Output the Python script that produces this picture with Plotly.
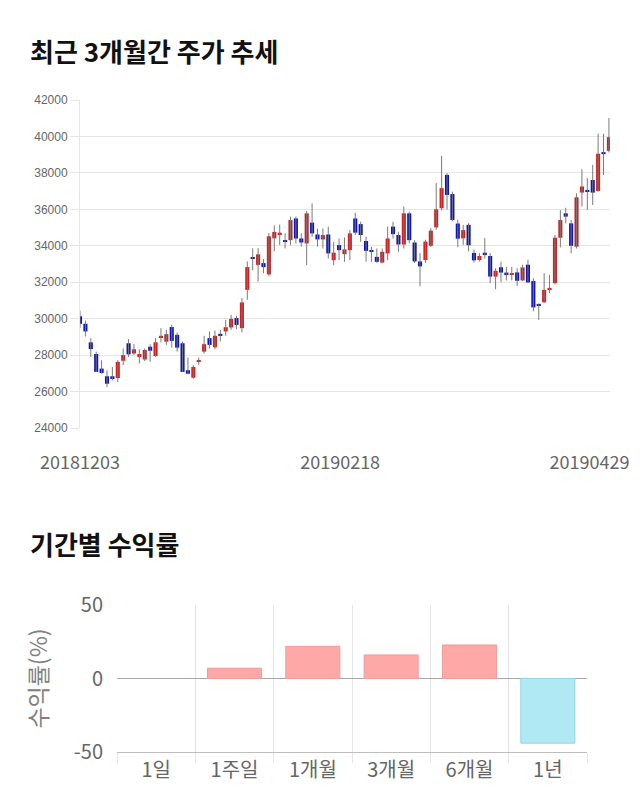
import plotly.graph_objects as go

# ---------------- data ----------------
dates = [
    "20181203", "20181204", "20181205", "20181206", "20181207", "20181210", "20181211", "20181212",
    "20181213", "20181214", "20181217", "20181218", "20181219", "20181220", "20181221", "20181224",
    "20181226", "20181227", "20181228",
    "20190102", "20190103", "20190104", "20190107", "20190108", "20190109", "20190110", "20190111",
    "20190114", "20190115", "20190116", "20190117", "20190118", "20190121", "20190122", "20190123",
    "20190124", "20190125", "20190128", "20190129", "20190130", "20190131",
    "20190201", "20190207", "20190208", "20190211", "20190212", "20190213", "20190214", "20190215",
    "20190218", "20190219", "20190220", "20190221", "20190222", "20190225", "20190226", "20190227",
    "20190228",
    "20190304", "20190305", "20190306", "20190307", "20190308", "20190311", "20190312", "20190313",
    "20190314", "20190315", "20190318", "20190319", "20190320", "20190321", "20190322", "20190325",
    "20190326", "20190327", "20190328", "20190329",
    "20190401", "20190402", "20190403", "20190404", "20190405", "20190408", "20190409", "20190410",
    "20190411", "20190412", "20190415", "20190416", "20190417", "20190418", "20190419", "20190422",
    "20190423", "20190424", "20190425", "20190426", "20190429",
]

opens = [
    30130, 29720, 28700, 28060, 27260, 26840, 26840, 26740, 27690, 28650,
    28090, 27950, 27760, 28460, 27950, 28960, 28740, 29540, 29110, 28650,
    27170, 26760, 27630, 28190, 28930, 28430, 29170, 29300, 29520, 30030,
    29480, 31580, 33330, 32950, 33050, 32430, 34410, 34630, 34310, 34310,
    35500, 34400, 34130, 35270, 34620, 34350, 34620, 33210, 34040, 33540,
    33760, 35500, 35190, 34260, 33760, 33390, 33080, 33580, 35050, 34590,
    34070, 35780, 34180, 33140, 33220, 34000, 35010, 36060, 37890, 36840,
    35220, 34410, 35150, 33610, 33220, 33620, 33440, 32310, 32820, 32530,
    32410, 32540, 32100, 32960, 32070, 30780, 30900, 31620, 31950, 34440,
    35780, 35230, 33950, 36920, 37060, 37610, 37010, 39140, 39210,
]
highs = [
    30440, 29900, 28930, 28190, 27720, 27170, 27350, 27720, 28370, 28870,
    28600, 28320, 28370, 28590, 28930, 29480, 29390, 29670, 29240, 28740,
    27870, 27450, 27870, 29060, 29300, 29350, 29390, 29940, 30210, 30160,
    31130, 33140, 33860, 33870, 33270, 34700, 35120, 35160, 34680, 35600,
    35600, 34680, 35910, 36330, 34950, 34950, 35050, 34220, 34400, 34460,
    34860, 35820, 35320, 34500, 33940, 33850, 33850, 35050, 35320, 34770,
    36150, 35870, 34310, 33600, 34330, 34970, 37440, 38940, 37990, 36970,
    35430, 35150, 35240, 33790, 33600, 34420, 33600, 32770, 33120, 32840,
    32840, 32770, 32960, 33230, 32220, 30840, 32500, 32400, 34600, 35960,
    36090, 35410, 36880, 38200, 37710, 38440, 40150, 40150, 41010,
]
lows = [
    29480, 29020, 27900, 27080, 26980, 26240, 26610, 26520, 27450, 27900,
    28000, 27540, 27670, 27630, 27910, 28690, 28560, 28410, 28190, 27080,
    26940, 26700, 27450, 28090, 28370, 28320, 28750, 29060, 29390, 29420,
    29240, 31040, 32650, 32040, 32500, 32320, 33700, 34040, 33850, 34040,
    34130, 33950, 32940, 34500, 33950, 33850, 33300, 32940, 33210, 33120,
    33210, 34590, 34220, 33120, 33120, 33060, 33030, 33210, 34400, 33670,
    33850, 34130, 33050, 31770, 33050, 33930, 34880, 35940, 35980, 35340,
    33930, 34050, 33690, 33080, 33140, 33300, 31950, 31620, 32000, 32100,
    32100, 31800, 32060, 31950, 30400, 29930, 30850, 31400, 31880, 33910,
    35230, 33580, 33850, 36150, 35960, 36240, 36970, 37890, 39120,
]
closes = [
    29720, 29300, 28330, 27080, 27020, 26430, 26690, 27630, 28000, 28040,
    28320, 28060, 28280, 28240, 28700, 29060, 29150, 28780, 28410, 27080,
    26980, 27350, 27720, 28600, 28560, 29060, 29080, 29530, 29990, 29660,
    30890, 32830, 33280, 33530, 32830, 34520, 34760, 34720, 34220, 35410,
    34400, 34180, 35780, 34680, 34350, 34590, 33580, 33620, 33760, 33800,
    34680, 34720, 34590, 33720, 33670, 33120, 33670, 34400, 34640, 34070,
    35780, 34310, 33140, 32870, 34230, 34830, 36000, 37160, 36790, 35420,
    34390, 34860, 34030, 33200, 33440, 33490, 32310, 32630, 32530, 32390,
    32500, 32080, 32810, 31990, 30620, 30740, 31580, 31670, 34440, 35410,
    35600, 34000, 36660, 37250, 36970, 36920, 39050, 39030, 39960,
]

price_ticks = [24000, 26000, 28000, 30000, 32000, 34000, 36000, 38000, 40000, 42000]
date_label_idx = [0, 49, 98]

periods = ["1일", "1주일", "1개월", "3개월", "6개월", "1년"]
returns = [0.0, 7.0, 21.9, 16.0, 22.8, -44.0]
return_ticks = [-50, 0, 50]

# ---------------- styling ----------------
UP = "#D0201F"
DOWN = "#0C16B8"
WICK = "#7a7a7a"
GRID = "#e6e6e6"
TXT = "#666666"
KR = "Noto Sans CJK KR"

idx = list(range(len(dates)))
fig = go.Figure()

# wicks
wx, wy = [], []
for i, h, l in zip(idx, highs, lows):
    wx += [i, i, None]
    wy += [l, h, None]
fig.add_trace(go.Scatter(x=wx, y=wy, mode="lines", line=dict(color=WICK, width=1),
                         hoverinfo="skip", showlegend=False, xaxis="x", yaxis="y"))

# bodies
MIN_BODY = 70
for up, color in ((True, UP), (False, DOWN)):
    xs, bases, hs = [], [], []
    for i, o, c in zip(idx, opens, closes):
        if (c > o) == up:
            xs.append(i)
            bases.append(min(o, c))
            hs.append(max(abs(c - o), MIN_BODY))
    fig.add_trace(go.Bar(x=xs, y=hs, base=bases, width=0.76, marker=dict(color=color, line=dict(width=0)),
                         showlegend=False, xaxis="x", yaxis="y"))

# returns bars
bar_fill = ["#FFA8A8" if v >= 0 else "#B0E9F3" for v in returns]
bar_line = ["#F49A9A" if v >= 0 else "#8FD6E6" for v in returns]
bar_lw = [0 if v == 0 else 1 for v in returns]
fig.add_trace(go.Bar(x=periods, y=returns, width=0.69,
                     marker=dict(color=bar_fill, line=dict(color=bar_line, width=bar_lw)),
                     showlegend=False, xaxis="x2", yaxis="y2"))

W, H = 640, 810
def px(x):
    return x / W
def py(y):
    return 1 - y / H

fig.update_layout(
    width=W, height=H,
    margin=dict(l=0, r=0, t=0, b=0),
    paper_bgcolor="white", plot_bgcolor="white",
    barmode="overlay",
    font=dict(family=KR, color=TXT),
    xaxis=dict(
        domain=[px(80), px(610)], range=[0, 98.2], anchor="y",
        showgrid=False, zeroline=False, showline=False,
        tickmode="array", tickvals=[0, 48.2, 94.4],
        ticktext=[dates[i] for i in date_label_idx],
        ticks="outside", ticklen=18, tickcolor="rgba(0,0,0,0)",
        tickfont=dict(family=KR, size=18, color=TXT), automargin=False,
    ),
    yaxis=dict(
        domain=[py(428), py(100)], range=[24000, 42000], anchor="x",
        tickvals=price_ticks, ticktext=[str(v) for v in price_ticks],
        showgrid=True, gridcolor=GRID, gridwidth=1, zeroline=False,
        showline=True, linecolor=GRID, linewidth=1,
        ticks="outside", ticklen=9, tickcolor=GRID,
        tickfont=dict(family="Liberation Sans", size=12, color=TXT), automargin=False,
    ),
    xaxis2=dict(
        domain=[px(117), px(587)], range=[-0.5, 5.5], anchor="y2", type="category",
        tickson="boundaries", showgrid=True, gridcolor=GRID, gridwidth=1,
        ticks="outside", ticklen=10, tickcolor=GRID,
        showline=True, linecolor="#bdbdbd", linewidth=1, zeroline=False,
        tickfont=dict(family=KR, size=20, color=TXT), automargin=False,
    ),
    yaxis2=dict(
        domain=[py(752), py(605)], range=[-50, 50], anchor="x2",
        tickvals=return_ticks, ticktext=[str(v) for v in return_ticks],
        showgrid=True, gridcolor=GRID, gridwidth=1,
        zeroline=True, zerolinecolor="#a8a8a8", zerolinewidth=1,
        ticks="outside", ticklen=9, tickcolor="rgba(0,0,0,0)",
        tickfont=dict(family=KR, size=20, color=TXT), automargin=False,
        title=dict(text="수익률(%)", font=dict(family=KR, size=23, color="#808080"), standoff=19),
    ),
    annotations=[
        dict(text="<b>최근 3개월간 주가 추세</b>", x=px(28), y=py(50), xref="paper", yref="paper",
             xanchor="left", yanchor="middle", showarrow=False,
             font=dict(family=KR, size=26, color="#111111")),
        dict(text="<b>기간별 수익률</b>", x=px(28), y=py(543), xref="paper", yref="paper",
             xanchor="left", yanchor="middle", showarrow=False,
             font=dict(family=KR, size=26, color="#111111")),
    ],
)

fig.write_html("out.html")
